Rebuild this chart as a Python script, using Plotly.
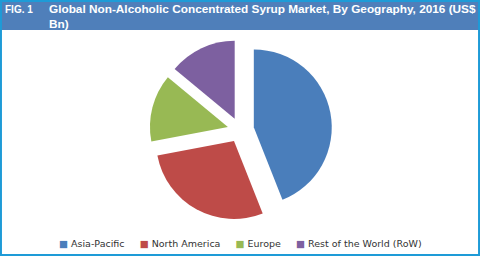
import plotly.graph_objects as go

regions = ["Asia-Pacific", "North America", "Europe", "Rest of the World (RoW)"]
shares = [44, 28, 14, 14]
colors = ["#4A7EBB", "#BE4B48", "#98B954", "#7D60A0"]
pulls = [0.18, 0.16, 0.16, 0.16]

W, H = 480, 256

fig = go.Figure()
fig.add_trace(go.Pie(
    labels=regions, values=shares, sort=False, direction="clockwise",
    rotation=0, pull=pulls, textinfo="none", hoverinfo="label+value",
    marker=dict(colors=colors, line=dict(color="white", width=0)),
    domain=dict(x=[148 / W, 332 / W], y=[1 - 222 / H, 1 - 38 / H]),
    showlegend=False,
))

gap = "&nbsp;" * 5
legend_text = gap.join(
    f'<span style="color:{c}">■</span>&nbsp;{r}' for r, c in zip(regions, colors)
)

fig.update_layout(
    width=W, height=H, margin=dict(l=0, r=0, t=0, b=0),
    paper_bgcolor="white", plot_bgcolor="white",
    shapes=[
        dict(type="rect", xref="paper", yref="paper", x0=0, x1=1, y0=1 - 30 / H, y1=1,
             fillcolor="#4F7FBA", line=dict(width=0), layer="below"),
        dict(type="rect", xref="paper", yref="paper", x0=0.002, x1=0.998, y0=0.004, y1=0.996,
             fillcolor="rgba(0,0,0,0)", line=dict(color="#1E9BD7", width=2)),
    ],
    annotations=[
        dict(text="<b>FIG. 1</b>", xref="paper", yref="paper", x=3 / W, y=1 - 2 / H,
             xanchor="left", yanchor="top", showarrow=False,
             font=dict(family="Liberation Sans", size=10, color="white")),
        dict(text="<b>Global Non-Alcoholic Concentrated Syrup Market, By Geography, 2016 (US$<br>Bn)</b>",
             xref="paper", yref="paper", x=47 / W, y=1 - 0 / H, xanchor="left", yanchor="top",
             align="left", showarrow=False,
             font=dict(family="Liberation Sans", size=11.8, color="white")),
        dict(text=legend_text, xref="paper", yref="paper", x=0.5, y=1 - 243 / H,
             xanchor="center", yanchor="middle", showarrow=False,
             font=dict(family="DejaVu Sans", size=9.5, color="#333333")),
    ],
)
fig.write_html("out.html")
